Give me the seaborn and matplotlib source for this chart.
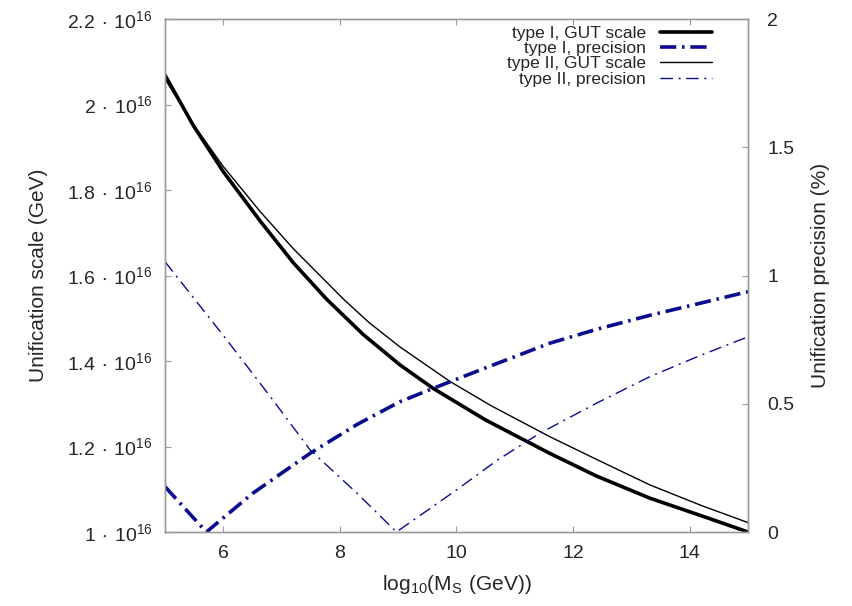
import numpy as np
import pandas as pd
import matplotlib
matplotlib.use("Agg")
import matplotlib.pyplot as plt
import seaborn as sns

# log10(M_S) sample points
x_gut1 = [5.0, 5.49, 6.0, 6.63, 7.2, 7.77, 8.4, 9.03, 9.6, 10.5, 11.6, 12.4, 13.32, 14.2, 15.0]
gut1 = [2.069, 1.950, 1.843, 1.728, 1.630, 1.545, 1.462, 1.391, 1.336, 1.262, 1.184, 1.131, 1.079, 1.038, 1.000]

x_gut2 = [5.0, 5.49, 6.0, 6.63, 7.2, 8.06, 8.5, 9.03, 9.89, 10.6, 11.6, 12.4, 13.32, 14.2, 15.0]
gut2 = [2.060, 1.953, 1.855, 1.750, 1.663, 1.545, 1.490, 1.433, 1.352, 1.295, 1.223, 1.170, 1.110, 1.062, 1.022]

x_prec1 = [5.0, 5.71, 6.5, 7.49, 8.3, 9.03, 9.6, 10.5, 11.6, 12.4, 13.32, 14.2, 15.0]
prec1 = [0.177, 0.0, 0.150, 0.307, 0.420, 0.508, 0.560, 0.640, 0.736, 0.790, 0.845, 0.893, 0.937]

x_prec2 = [5.0, 6.06, 6.8, 7.49, 8.3, 8.97, 10.0, 10.7, 11.43, 12.4, 13.32, 14.2, 15.0]
prec2 = [1.054, 0.749, 0.530, 0.320, 0.150, 0.0, 0.164, 0.280, 0.385, 0.502, 0.606, 0.690, 0.761]

labels = ["type I, GUT scale", "type I, precision", "type II, GUT scale", "type II, precision"]

left_ticks = [1.0, 1.2, 1.4, 1.6, 1.8, 2.0, 2.2]
left_tick_labels = [r"$\mathregular{1\,\cdot\,10^{16}}$", r"$\mathregular{1.2\,\cdot\,10^{16}}$",
                    r"$\mathregular{1.4\,\cdot\,10^{16}}$", r"$\mathregular{1.6\,\cdot\,10^{16}}$",
                    r"$\mathregular{1.8\,\cdot\,10^{16}}$", r"$\mathregular{2\,\cdot\,10^{16}}$",
                    r"$\mathregular{2.2\,\cdot\,10^{16}}$"]
right_ticks = [0, 0.5, 1, 1.5, 2]
right_tick_labels = ["0", "0.5", "1", "1.5", "2"]
x_ticks = [6, 8, 10, 12, 14]

sns.set_style("white")
plt.rcParams["font.family"] = ["Liberation Sans", "DejaVu Sans"]
plt.rcParams["mathtext.default"] = "regular"

blue = "#0b0b8f"
frame = "#9a9a9a"

fig = plt.figure(figsize=(8.53, 6.06), dpi=100)
ax = fig.add_axes([0.1934, 0.1221, 0.6835, 0.8465])
ax2 = ax.twinx()

sns.lineplot(x=x_gut1, y=gut1, ax=ax, color="black", lw=2.6, label=labels[0], legend=False)
sns.lineplot(x=x_gut2, y=gut2, ax=ax, color="black", lw=1.0, label=labels[2], legend=False)
sns.lineplot(x=x_prec1, y=prec1, ax=ax2, color=blue, lw=2.6, label=labels[1], legend=False)
sns.lineplot(x=x_prec2, y=prec2, ax=ax2, color=blue, lw=1.0, label=labels[3], legend=False)
ax2.lines[0].set_linestyle((0, (4.5, 1.6, 0.7, 1.6)))
ax2.lines[1].set_linestyle((0, (9, 4, 1.5, 4)))

ax.set_xlim(5, 15)
ax.set_ylim(1.0, 2.2)
ax2.set_ylim(0, 2)
ax.set_xticks(x_ticks)
ax.set_xticklabels([str(t) for t in x_ticks])
ax.set_yticks(left_ticks)
ax.set_yticklabels(left_tick_labels)
ax2.set_yticks(right_ticks)
ax2.set_yticklabels(right_tick_labels)

for a in (ax, ax2):
    for s in a.spines.values():
        s.set_color(frame)
        s.set_linewidth(1.0)
ax.tick_params(axis="both", direction="in", length=4, color=frame, labelsize=14,
               pad=9, top=True, labeltop=False, bottom=True, left=True, right=False)
ax2.tick_params(axis="y", direction="in", length=4, color=frame, labelsize=14, pad=14, right=True)

ax.set_xlabel(r"$\mathregular{log_{10}(M_S\ (GeV))}$", fontsize=15, labelpad=8)
ax.set_ylabel("Unification scale (GeV)", fontsize=15, labelpad=14)
ax2.set_ylabel("Unification precision (%)", fontsize=15, labelpad=12)

h1, l1 = ax.get_legend_handles_labels()
h2, l2 = ax2.get_legend_handles_labels()
handles = [h1[0], h2[0], h1[1], h2[1]]
leg = ax2.legend(handles, labels, loc="upper right", frameon=False, markerfirst=False,
                 fontsize=12.5, handlelength=3.0, labelspacing=0.0, borderaxespad=0.0,
                 handletextpad=0.8, bbox_to_anchor=(0.95, 1.0))
for t in leg.get_texts():
    t.set_ha("right")
leg._legend_box.align = "right"

fig.savefig("out.png", dpi=100)
